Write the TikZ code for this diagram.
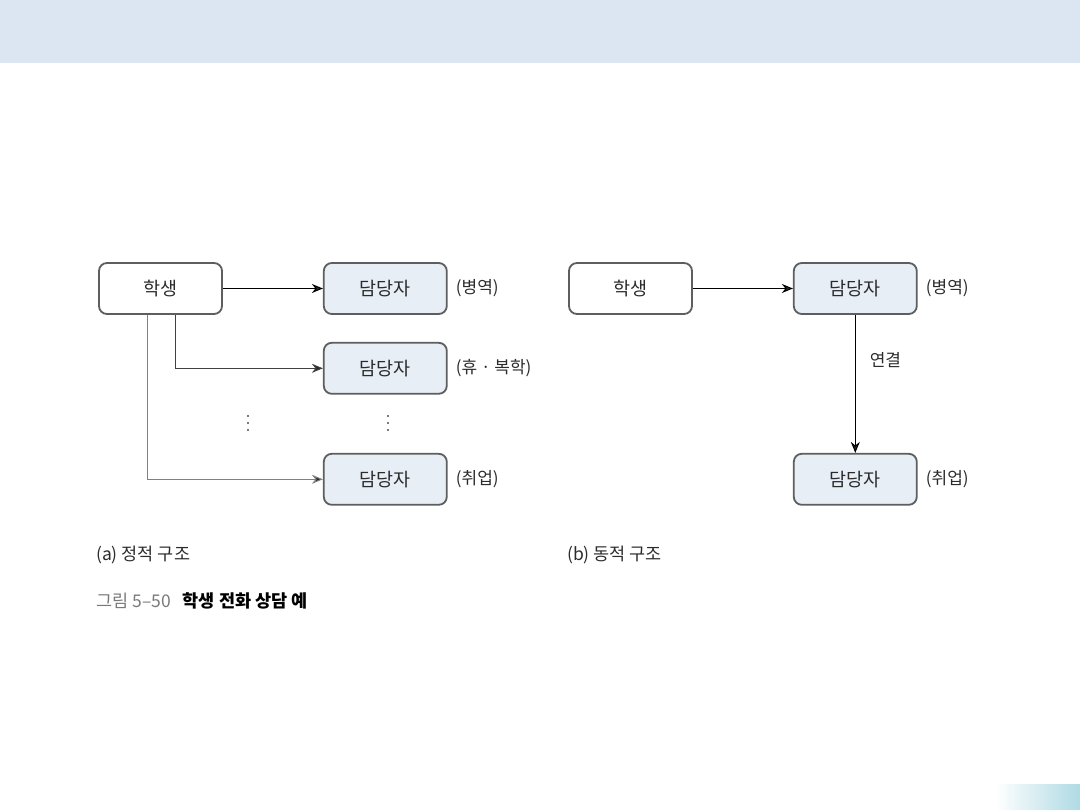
\documentclass[tikz,border=0pt]{standalone}
\usepackage{fontspec}
\setmainfont{Noto Sans CJK KR}
\usepackage{tikz}
\usetikzlibrary{arrows.meta, positioning}
\definecolor{hdrblue}{HTML}{DCE6F2}
\definecolor{boxfill}{HTML}{E7EEF5}
\definecolor{boxline}{HTML}{5E5E5E}
\definecolor{tealfade}{HTML}{AFDAE4}
\definecolor{capgray}{HTML}{7A7A7A}
\definecolor{txtdark}{HTML}{2B2B2B}

\begin{document}
\begin{tikzpicture}[
    x=1pt, y=-1pt,
    font=\fontsize{18.5}{21}\selectfont,
    text=txtdark,
    stud/.style={rectangle, draw=boxline, line width=1.8pt, rounded corners=8pt,
                 fill=white, minimum width=123pt, minimum height=51pt, inner sep=0pt},
    mgr/.style={stud, fill=boxfill},
    tag/.style={anchor=west, inner sep=0pt, font=\fontsize{17}{20}\selectfont},
    capt/.style={anchor=west, inner sep=0pt, font=\fontsize{17.5}{20}\selectfont},
    arr/.style={-{Stealth[length=11pt, width=9pt, fill=black!85]}, line width=1pt},
]

% Slide background
\fill[hdrblue] (0,0) rectangle (1080,63);
\shade[left color=white, right color=tealfade] (995,784) rectangle (1080,810);
\useasboundingbox (0,0) rectangle (1080,810);

% (a) static structure
\node[stud] (stuA) at (160.5,288.5) {학생};
\node[mgr, right=100pt of stuA] (mgrA1) {담당자};
\node[mgr, below=27pt of mgrA1] (mgrA2) {담당자};
\node[mgr, below=138pt of mgrA1] (mgrA3) {담당자};
\node[tag, right=8pt of mgrA1] (tagA1) {(병역)};
\node[tag, right=8pt of mgrA2] (tagA2) {(휴 · 복학)};
\node[tag, right=8pt of mgrA3] (tagA3) {(취업)};
\foreach \gx in {248,388}
  \foreach \gy in {416,423,430}
    \fill[black!70] (\gx,\gy) circle (1.1);

% (b) dynamic structure
\node[stud] (stuB) at (630.5,288.5) {학생};
\node[mgr, right=100pt of stuB] (mgrB1) {담당자};
\node[mgr, below=138pt of mgrB1] (mgrB2) {담당자};
\node[tag, right=8pt of mgrB1] (tagB1) {(병역)};
\node[tag, right=8pt of mgrB2] (tagB2) {(취업)};

% Connections
\draw[arr] (stuA) -- (mgrA1);
\draw[arr, draw=black!75] ([xshift=14.5pt]stuA.south) |- (mgrA2);
\draw[arr, draw=black!50] ([xshift=-13.5pt]stuA.south) |- (mgrA3);
\draw[arr] (stuB) -- (mgrB1);
\draw[arr] (mgrB1) -- node[tag, pos=0.33, xshift=14pt] (link) {연결} (mgrB2);

% Captions
\node[capt] (capA) at (96,555) {(a) 정적 구조};
\node[capt] (capB) at (567,555) {(b) 동적 구조};
\node[capt] (figno) at (96,601) {\textcolor{capgray}{그림 5--50}\hspace{12pt}\textcolor{black}{\bfseries 학생 전화 상담 예}};

\end{tikzpicture}
\end{document}
